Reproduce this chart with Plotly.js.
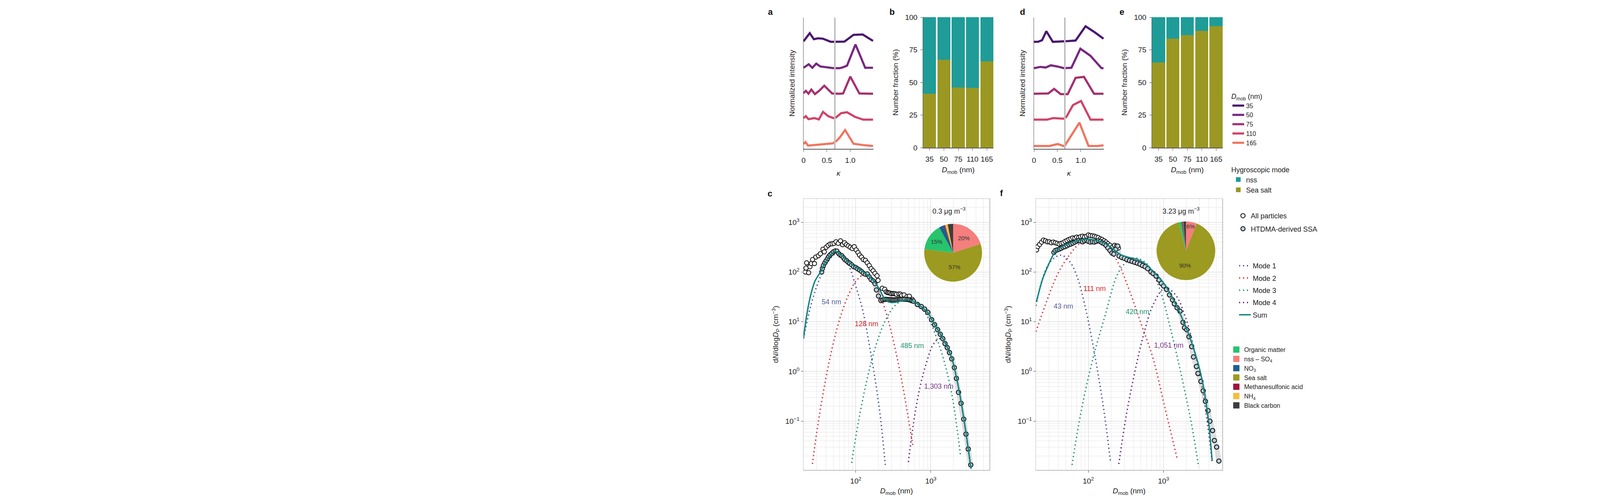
<!DOCTYPE html>
<html><head><meta charset="utf-8">
<script src="https://cdn.plot.ly/plotly-3.0.1.min.js"></script>
<style>html,body{margin:0;padding:0;background:#fff}#chart{width:5377px;height:1280px}</style>
</head><body><div id="chart"></div>
<script>
// ---------------- DATA ----------------
const dmobSizes = ['35', '50', '75', '110', '165'];
// panel a (kappa distributions, offset normalized intensity)
const aKappa35 = [0,0.133,0.222,0.306,0.417,0.5,0.583,0.653,0.694,0.778,0.875,0.958,1.069,1.264,1.361,1.486];
const aInt35   = [0.817,0.880,0.833,0.840,0.837,0.823,0.813,0.813,0.813,0.813,0.815,0.837,0.867,0.870,0.847,0.820];
const aKappa50 = [0,0.111,0.189,0.272,0.361,0.5,0.639,0.778,0.847,0.931,1.111,1.319,1.486];
const aInt50   = [0.613,0.640,0.613,0.645,0.623,0.615,0.610,0.610,0.617,0.630,0.793,0.613,0.613];
const aKappa75 = [0,0.05,0.106,0.167,0.244,0.333,0.444,0.611,0.778,0.847,1.0,1.194,1.486];
const aInt75   = [0.417,0.435,0.413,0.445,0.410,0.435,0.475,0.415,0.413,0.415,0.545,0.415,0.413];
const aKappa110 = [0,0.05,0.106,0.236,0.328,0.417,0.528,0.639,0.694,0.806,0.931,1.097,1.278,1.486];
const aInt110   = [0.225,0.240,0.217,0.225,0.215,0.273,0.240,0.225,0.230,0.263,0.270,0.235,0.213,0.213];
const aKappa165 = [0,0.042,0.097,0.222,0.333,0.5,0.625,0.708,0.778,0.889,1.069,1.278,1.486];
const aInt165   = [0.025,0.040,0.013,0.017,0.023,0.027,0.030,0.050,0.077,0.133,0.027,0.017,0.010];
// panel d
const dKappa35 = [0,0.083,0.172,0.264,0.403,0.528,0.639,0.75,0.889,1.103,1.306,1.486];
const dInt35   = [0.813,0.813,0.825,0.895,0.813,0.817,0.817,0.819,0.823,0.933,0.885,0.837];
const dKappa50 = [0,0.069,0.139,0.25,0.361,0.5,0.639,0.8,0.992,1.208,1.444,1.486];
const dInt50   = [0.610,0.613,0.620,0.615,0.632,0.623,0.610,0.613,0.760,0.705,0.610,0.610];
const dKappa75 = [0,0.306,0.431,0.569,0.722,0.889,1.069,1.283,1.486];
const dInt75   = [0.413,0.415,0.450,0.410,0.410,0.535,0.543,0.413,0.413];
const dKappa110 = [0,0.278,0.411,0.639,0.694,0.833,1.006,1.208,1.486];
const dInt110   = [0.213,0.213,0.225,0.220,0.235,0.325,0.357,0.213,0.213];
const dKappa165 = [0,0.333,0.506,0.653,0.681,0.972,1.167,1.361,1.486];
const dInt165   = [0.010,0.010,0.025,0.007,0.025,0.190,0.010,0.010,0.015];
const kappaThreshold = [0.67, 0.66];
const kappaTicks = [0, 0.5, 1.0];
const kappaTickText = ['0', '0.5', '1.0'];
// panels b, e (number fraction %)
const bSeaSalt = [41.4, 67.5, 46.0, 45.9, 66.3];
const bNss     = [58.6, 32.5, 54.0, 54.1, 33.7];
const eSeaSalt = [65.4, 83.6, 86.1, 89.5, 93.0];
const eNss     = [34.6, 16.4, 13.9, 10.5, 7.0];
const fracTicks = [0, 25, 50, 75, 100];
// panel c size distribution
const cAllD = [21.3,21.7,22.1,23.5,24.5,25.5,26.5,28.1,29.3,31.7,33.7,36.5,38.0,40.3,42.8,45.5,48.3,51.3,54.4,58.2,62.5,66.4,70.6,74.9,79.4,84.3,89.7,95.2,101,107,112,119,126,134,142,151,160,170,180,192,198,225,243,254,264,274,285,297,310,322,336,349,375,393,409,440,480,516,563,661,745,824,910,1023,1122,1230,1335,1443,1545,1656,1774,1901,2055,2192,2337,2527,2743,2939,3149,3405];
const cAllN = [100,120,153,97,128,148,178,148,200,213,233,288,255,315,344,366,370,377,405,377,425,355,388,355,334,315,297,324,279,247,219,200,178,172,153,135,117,106,94,84,68,47,45,40,38.7,38.2,37.8,36.5,37.1,36.8,36.5,35.6,36.2,35.9,33.9,34.6,31.9,32.7,28.3,22.3,20.3,18.0,15.5,11.0,8.71,6.92,5.60,4.57,3.63,3.02,2.40,1.79,1.20,0.724,0.380,0.229,0.110,0.055,0.0275,0.0132];
const cSsaD = [35.1,35.8,36.9,38.7,40.3,42.0,43.6,45.5,47.7,50.2,53.3,56.0,58.9,62.1,65.1,68.3,71.1,74.9,78.9,82.8,87.9,93.3,99.1,105,112,119,126,134,142,151,160,170,180,188,200,216,228,239,250,262,274,286,298,310,322,336,350,365,380,393,410,430,450,480,500,520,545,565,587,661,745,824,910,1023,1122,1230,1335,1443,1545,1656,1774,1901,2055,2192,2337,2527,2743,2939,3149,3405];
const cSsaN = [100,117,135,153,170,188,206,222,236,255,266,263,236,219,213,194,178,170,157,151,140,128,124,117,110,103,94.4,90,91.6,79.8,70.6,66.5,58.3,43.7,32.9,26.7,27.6,28.3,28.2,28.1,28.0,27.9,27.7,27.5,27.5,27.6,27.8,28.0,28.2,28.3,28.4,28.4,28.3,28.3,28.0,27.5,26.8,26.3,25.9,22.3,20.3,18.0,15.5,11.0,8.71,6.92,5.60,4.57,3.63,3.02,2.40,1.79,1.20,0.724,0.380,0.229,0.110,0.055,0.0275,0.0132];
const cSumD = [20.1,22.2,24.9,28.6,33.0,37.2,43.6,53.3,65.1,79.4,97.1,119,145,177,207,239,274,322,393,480,587,716,910,1023,1230,1545,1901,2192,2527,2939,3440];
const cSumN = [4.70,13.8,33.1,66.1,94.4,135,200,259,217,162,129,106,86.3,63.8,44.5,30.1,25.1,24.4,25.9,27.5,25.9,21.0,15.3,11.2,7.0,3.8,1.86,0.76,0.25,0.058,0.0110];
const cMode1D = [20.1,24.9,32.8,43.2,53.8,68.4,82.1,98.6,124,156,187,215,247];
const cMode1N = [4.57,20,72.4,166,229,191,126,55,16.6,2.63,0.50,0.105,0.0132];
const cMode2D = [26.4,31.3,39.4,49.6,62.4,82.1,103,128,163,205,258,325,409,491,577];
const cMode2N = [0.0138,0.087,0.66,3.47,12.6,38,69,87,72,38,13.8,3.47,0.66,0.138,0.0316];
const cMode3D = [88,108,142,187,247,340,485,677,934,1230,1545,1945,2500];
const cMode3N = [0.0145,0.095,0.72,3.47,10.5,21.9,28.8,21.9,11.5,4.17,1.38,0.29,0.019];
const cMode4D = [502,590,710,892,1072,1305,1619,2037,2559,3373];
const cMode4N = [0.0151,0.0955,0.457,1.66,3.47,4.57,3.47,1.26,0.219,0.0126];
const cLabelD = [47.3, 139, 563, 1276];
const cLabelN = [24.4, 8.87, 3.22, 0.488];
const cLabelText = ['54 nm', '128 nm', '485 nm', '1,303 nm'];
// panel f size distribution
const fAllD = [20.5,21.2,22.5,23.9,25.3,26.9,28.6,30.3,32.2,34.2,36.3,38.5,40.9,43.4,46.1,49.0,52.0,55.2,58.6,62.2,66.1,70.0,74.4,78.9,83.8,88.9,94.4,100,106,113,120,127,135,144,152,162,172,182,194,206,223,236,251,277,301,325,352,381,413,448,485,525,568,616,680,726,796,871,934,1000,1096,1201,1316,1390,1510,1655,1813,1898,2033,2178,2365,2499,2738,2867,3141,3365,3605,3910,4133,4488,4743,5082,5445];
const fAllN = [279,324,359,400,438,425,405,405,388,400,388,377,366,377,388,412,431,452,466,486,480,504,494,515,525,509,525,557,541,535,525,509,494,466,452,425,400,370,344,311,344,334,305,197,188,178,170,164,157,151,144,135,128,117,101,93.8,83.2,69.2,59.2,52.5,44.9,34.7,27.5,22.9,19.1,16.3,9.73,7.59,6.92,5.01,3.16,1.96,1.26,0.912,0.631,0.409,0.251,0.163,0.100,0.0649,0.0409,0.0302,0.0158];
const fSsaD = [34.8,36.3,38.5,40.9,43.4,46.1,49.0,52.0,55.2,58.6,62.2,66.1,70.0,74.4,78.9,83.8,88.9,94.4,100,106,113,120,127,135,144,152,162,172,182,194,206,218,232,246,256,277,301,325,352,381,413,448,485,525,568,616,680,726,796,871,934,1000,1096,1201,1316,1390,1510,1655,1813,1898,2033,2178,2365,2499,2738,2867,3141,3365,3605,3910,4133,4488,4743,5082,5445];
const fSsaN = [247,271,279,288,300,315,324,338,355,366,382,400,420,431,420,405,425,438,412,400,405,400,412,425,412,388,372,344,305,271,240,230,288,334,209,197,188,178,170,164,157,151,144,135,128,117,101,93.8,83.2,69.2,59.2,52.5,44.9,34.7,27.5,22.9,19.1,16.3,9.73,7.59,6.92,5.01,3.16,1.96,1.26,0.912,0.631,0.409,0.251,0.163,0.100,0.0649,0.0409,0.0302,0.0158];
const fSumD = [20.4,21.2,24.8,29.2,34.2,40.1,49.0,59.8,72.9,88.9,109,133,162,198,232,272,345,439,535,628,708,871,1047,1256,1510,1813,2178,2613,3141,3605,3948,4430];
const fSumN = [25.1,31.9,74.1,135,222,292,351,396,431,452,452,425,384,318,259,222,197,181,157,131,105,77.9,55,34.7,20,10.7,5.40,2.40,0.871,0.288,0.105,0.0163];
const fMode1D = [20.1,24.5,30.9,42.9,55.9,70.4,88.3,111,140,168,197];
const fMode1N = [20.9,72.4,158,219,166,83,24,4.57,0.63,0.105,0.0151];
const fMode2D = [20.1,26.8,38.5,55.9,80.7,111,168,242,349,503,726,1047,1510];
const fMode2N = [6.31,21.9,87,219,398,437,347,166,43.7,9.12,1.82,0.182,0.0182];
const fMode3D = [60.7,80.7,116,168,242,318,419,604,871,1256,1811,2386,2931];
const fMode3N = [0.0132,0.166,1.91,13.8,87,158,191,145,50,6.61,0.60,0.079,0.012];
const fMode4D = [254,318,419,552,726,1047,1442,1986,2613,3443,4430];
const fMode4N = [0.0138,0.126,1.05,6.03,21.9,47.9,34.7,11.5,2.40,0.288,0.0151];
const fLabelD = [121, 46.6, 449, 1175];
const fLabelN = [44.9, 20, 15.6, 3.25];
const fLabelText = ['111 nm', '43 nm', '420 nm', '1,051 nm'];
// pies (mass composition, %)
const pieLabels = ['nss – SO<sub>4</sub>', 'Sea salt', 'Organic matter', 'NO<sub>3</sub>', 'Methanesulfonic acid', 'NH<sub>4</sub>', 'Black carbon'];
const cPieValues = [20, 57, 15, 3, 0.5, 1.5, 3];
const cPieText = ['20%', '57%', '15%', '', '', '', ''];
const fPieValues = [6, 90, 1.5, 0.3, 0.5, 0.2, 1.5];
const fPieText = ['6%', '90%', '', '', '', '', ''];
const compLegendOrder = ['Organic matter', 'nss – SO<sub>4</sub>', 'NO<sub>3</sub>', 'Sea salt', 'Methanesulfonic acid', 'NH<sub>4</sub>', 'Black carbon'];
const cMassText = '0.3 μg m<sup>−3</sup>';
const fMassText = '3.23 μg m<sup>−3</sup>';

// ---------------- STYLE ----------------
const W = 5377, H = 1280;
const fx = p => p / W;
const fy = p => 1 - p / H;
const FONT = 'Liberation Sans, Arial, Helvetica, sans-serif';
const dmobColors = ['#4a176e', '#78287f', '#a5306f', '#d0446a', '#ef7560'];
const NSS = '#1f9c98', SEA = '#9b9723';
const compColors = {
  'Organic matter': '#27c46d', 'nss – SO<sub>4</sub>': '#f47f7d', 'NO<sub>3</sub>': '#1e5f8e',
  'Sea salt': '#9c9a20', 'Methanesulfonic acid': '#a3123f', 'NH<sub>4</sub>': '#f6bb41', 'Black carbon': '#3d3d3d'
};
const modeColors = ['#4b5397', '#d6303e', '#1e8f6e', '#5e2a6c'];
const labelColors = ['#5a5fa0', '#d42a2a', '#26996f', '#7a3a8a'];
const labelColorsF = ['#d42a2a', '#5a5fa0', '#26996f', '#7a3a8a'];
const SUM = '#13837f';

const traces = [];
// panels a & d
const aSets = [[aKappa35, aInt35], [aKappa50, aInt50], [aKappa75, aInt75], [aKappa110, aInt110], [aKappa165, aInt165]];
const dSets = [[dKappa35, dInt35], [dKappa50, dInt50], [dKappa75, dInt75], [dKappa110, dInt110], [dKappa165, dInt165]];
aSets.forEach((s, i) => traces.push({type: 'scatter', mode: 'lines', x: s[0], y: s[1], xaxis: 'x', yaxis: 'y',
  line: {color: dmobColors[i], width: 5.5}, name: dmobSizes[i], legend: 'legend', legendgroup: 'dm' + i, showlegend: true}));
dSets.forEach((s, i) => traces.push({type: 'scatter', mode: 'lines', x: s[0], y: s[1], xaxis: 'x3', yaxis: 'y3',
  line: {color: dmobColors[i], width: 5.5}, name: dmobSizes[i], legend: 'legend', legendgroup: 'dm' + i, showlegend: false}));
// panels b & e
traces.push({type: 'bar', x: dmobSizes, y: bSeaSalt, xaxis: 'x2', yaxis: 'y2', name: 'Sea salt', marker: {color: SEA}, legend: 'legend2'});
traces.push({type: 'bar', x: dmobSizes, y: bNss, xaxis: 'x2', yaxis: 'y2', name: 'nss', marker: {color: NSS}, legend: 'legend2'});
traces.push({type: 'bar', x: dmobSizes, y: eSeaSalt, xaxis: 'x4', yaxis: 'y4', name: 'Sea salt', marker: {color: SEA}, legend: 'legend2', showlegend: false});
traces.push({type: 'bar', x: dmobSizes, y: eNss, xaxis: 'x4', yaxis: 'y4', name: 'nss', marker: {color: NSS}, legend: 'legend2', showlegend: false});

function sizePanel(xa, ya, modes, all, ssa, sum, lbl, lblColors, first) {
  modes.forEach((m, i) => traces.push({type: 'scatter', mode: 'lines', x: m[0], y: m[1], xaxis: xa, yaxis: ya,
    line: {color: modeColors[i], width: 3.5, dash: '3px,7px', shape: 'spline'}, name: 'Mode ' + (i + 1),
    legend: 'legend4', legendgroup: 'm' + i, showlegend: first}));
  traces.push({type: 'scatter', mode: 'lines', x: ssa[0], y: ssa[1], xaxis: xa, yaxis: ya,
    line: {color: 'rgba(150,150,150,0.30)', width: 13}, showlegend: false, hoverinfo: 'skip'});
  traces.push({type: 'scatter', mode: 'markers', x: all[0], y: all[1], xaxis: xa, yaxis: ya, name: 'All particles',
    marker: {symbol: 'circle', size: 11, color: '#ffffff', line: {color: '#111', width: 2}},
    legend: 'legend3', legendgroup: 'all', showlegend: first});
  traces.push({type: 'scatter', mode: 'markers', x: ssa[0], y: ssa[1], xaxis: xa, yaxis: ya, name: 'HTDMA-derived SSA',
    marker: {symbol: 'circle', size: 11, color: '#b9cdd8', line: {color: '#111', width: 2}},
    legend: 'legend3', legendgroup: 'ssa', showlegend: first});
  traces.push({type: 'scatter', mode: 'lines', x: sum[0], y: sum[1], xaxis: xa, yaxis: ya, name: 'Sum',
    line: {color: SUM, width: 3.5, shape: 'spline'}, legend: 'legend4', legendgroup: 'sum', showlegend: first});
  traces.push({type: 'scatter', mode: 'text', x: lbl[0], y: lbl[1], text: lbl[2], xaxis: xa, yaxis: ya,
    textfont: {size: 18, color: lblColors, family: FONT}, showlegend: false, hoverinfo: 'skip', cliponaxis: false});
}
sizePanel('x5', 'y5', [[cMode1D, cMode1N], [cMode2D, cMode2N], [cMode3D, cMode3N], [cMode4D, cMode4N]],
  [cAllD, cAllN], [cSsaD, cSsaN], [cSumD, cSumN], [cLabelD, cLabelN, cLabelText], labelColors, true);
sizePanel('x6', 'y6', [[fMode1D, fMode1N], [fMode2D, fMode2N], [fMode3D, fMode3N], [fMode4D, fMode4N]],
  [fAllD, fAllN], [fSsaD, fSsaN], [fSumD, fSumN], [fLabelD, fLabelN, fLabelText], labelColorsF, false);

// composition legend entries
compLegendOrder.forEach(n => traces.push({type: 'scatter', mode: 'markers', x: [null], y: [null], xaxis: 'x5', yaxis: 'y5',
  name: n, marker: {symbol: 'square', size: 16, color: compColors[n]}, legend: 'legend5', showlegend: true}));

// pies
function pie(values, text, cx, cy, r) {
  traces.push({type: 'pie', labels: pieLabels, values: values, text: text, textinfo: 'text', sort: false,
    direction: 'clockwise', rotation: 0, textposition: text.map(t => t ? 'inside' : 'none'),
    insidetextorientation: 'horizontal', textfont: {size: 15, color: '#333', family: FONT},
    marker: {colors: pieLabels.map(l => compColors[l]), line: {width: 0}},
    domain: {x: [fx(cx - r), fx(cx + r)], y: [fy(cy + r), fy(cy - r)]}, showlegend: false, hoverinfo: 'skip'});
}
pie(cPieValues, cPieText, 2440, 647, 74);
pie(fPieValues, fPieText, 3036, 642, 75);

// ---------------- AXES ----------------
const lineAx = {showline: true, linecolor: '#555', linewidth: 1.5, ticks: 'outside', ticklen: 6, tickcolor: '#555',
  showgrid: false, zeroline: false, tickfont: {size: 19, color: '#222'}};
function kappaX(dom, anchor) {
  return Object.assign({}, lineAx, {domain: dom, anchor: anchor, range: [0, 1.495], tickmode: 'array', tickvals: kappaTicks,
    ticktext: kappaTickText, ticklabelstandoff: 6, title: {text: '<i>κ</i>', standoff: 16, font: {size: 19}}});
}
function kappaY(dom, anchor) {
  return Object.assign({}, lineAx, {domain: dom, anchor: anchor, range: [-0.012, 1], showticklabels: false, ticks: '',
    title: {text: 'Normalized intensity', standoff: 16, font: {size: 19}}});
}
function catX(dom, anchor) {
  return Object.assign({}, lineAx, {domain: dom, anchor: anchor, type: 'category', range: [-0.455, 4.455], ticklabelstandoff: 6,
    title: {text: '<i>D</i><sub>mob</sub> (nm)', standoff: 10, font: {size: 19}}});
}
function fracY(dom, anchor) {
  return Object.assign({}, lineAx, {domain: dom, anchor: anchor, range: [0, 100], tickmode: 'array', tickvals: fracTicks,
    ticklabelstandoff: 3, title: {text: 'Number fraction (%)', standoff: 12, font: {size: 19}}});
}
const minorX = [], minorY = [];
for (let e = 1; e <= 3; e++) for (let m = 2; m <= 9; m++) minorX.push(m * Math.pow(10, e));
for (let e = -2; e <= 3; e++) for (let m = 2; m <= 9; m++) minorY.push(m * Math.pow(10, e));
const logAx = {type: 'log', showline: true, mirror: true, linecolor: '#bdbdbd', linewidth: 1.5, ticks: 'outside', ticklen: 5,
  tickcolor: '#333', showgrid: true, gridcolor: '#d0d0d0', gridwidth: 1, zeroline: false, tickfont: {size: 19, color: '#222'},
  tickmode: 'array'};
function sizeX(dom, anchor) {
  return Object.assign({}, logAx, {domain: dom, anchor: anchor, range: [1.303, 3.781], tickvals: [100, 1000],
    ticktext: ['10<sup>2</sup>', '10<sup>3</sup>'], ticklabelstandoff: 6,
    minor: {tickmode: 'array', tickvals: minorX, showgrid: true, gridcolor: '#e6e6e6', ticks: ''},
    title: {text: '<i>D</i><sub>mob</sub> (nm)', standoff: 8, font: {size: 19}}});
}
function sizeY(dom, anchor) {
  return Object.assign({}, logAx, {domain: dom, anchor: anchor, range: [-1.98, 3.472], tickvals: [0.1, 1, 10, 100, 1000],
    ticktext: ['10<sup>−1</sup>', '10<sup>0</sup>', '10<sup>1</sup>', '10<sup>2</sup>', '10<sup>3</sup>'],
    minor: {tickmode: 'array', tickvals: minorY, showgrid: true, gridcolor: '#e6e6e6', ticks: ''},
    title: {text: 'd<i>N</i>/dlog<i>D</i><sub>P</sub> (cm<sup>−3</sup>)', standoff: 12, font: {size: 19}}});
}
const topY = [fy(381), fy(45)];
const barY = [fy(378), fy(44)];
const botY = [fy(1203), fy(509)];

const legBase = {xanchor: 'left', yanchor: 'top', bgcolor: 'rgba(0,0,0,0)', font: {size: 18, color: '#222', family: FONT}, itemwidth: 30};
const legSmall = {size: 16, color: '#222', family: FONT};
const layout = {
  width: W, height: H, margin: {l: 0, r: 0, t: 0, b: 0}, paper_bgcolor: '#fff', plot_bgcolor: '#fff',
  font: {family: FONT, size: 18, color: '#222'}, barmode: 'stack', bargap: 0.09, showlegend: true,
  uniformtext: {minsize: 14, mode: 'show'},
  xaxis: kappaX([fx(2057), fx(2236)], 'y'), yaxis: kappaY(topY, 'x'),
  xaxis2: catX([fx(2363), fx(2543)], 'y2'), yaxis2: fracY(barY, 'x2'),
  xaxis3: kappaX([fx(2647), fx(2826)], 'y3'), yaxis3: kappaY(topY, 'x3'),
  xaxis4: catX([fx(2949), fx(3130)], 'y4'), yaxis4: fracY(barY, 'x4'),
  xaxis5: sizeX([fx(2057), fx(2533)], 'y5'), yaxis5: sizeY(botY, 'x5'),
  xaxis6: sizeX([fx(2652), fx(3129)], 'y6'), yaxis6: sizeY(botY, 'x6'),
  legend: Object.assign({}, legBase, {x: fx(3150), y: fy(230), traceorder: 'normal', tracegroupgap: 0, font: legSmall,
    title: {text: '<i>D</i><sub>mob</sub> (nm)', font: {size: 18}}}),
  legend2: Object.assign({}, legBase, {x: fx(3150), y: fy(418), traceorder: 'reversed',
    title: {text: 'Hygroscopic mode', font: {size: 18}}}),
  legend3: Object.assign({}, legBase, {x: fx(3162), y: fy(534), traceorder: 'grouped', tracegroupgap: 7}),
  legend4: Object.assign({}, legBase, {x: fx(3167), y: fy(662), traceorder: 'grouped', tracegroupgap: 5}),
  legend5: Object.assign({}, legBase, {x: fx(3145), y: fy(878), traceorder: 'normal', font: legSmall}),
  shapes: [
    {type: 'line', xref: 'x', yref: 'y domain', x0: kappaThreshold[0], x1: kappaThreshold[0], y0: 0, y1: 1, line: {color: '#bfbfbf', width: 4}, layer: 'above'},
    {type: 'line', xref: 'x3', yref: 'y3 domain', x0: kappaThreshold[1], x1: kappaThreshold[1], y0: 0, y1: 1, line: {color: '#bfbfbf', width: 4}, layer: 'above'}
  ],
  annotations: [
    ['a', 1972, 30], ['b', 2283, 30], ['d', 2617, 30], ['e', 2872, 30], ['c', 1971, 495], ['f', 2564, 494]
  ].map(a => ({text: '<b>' + a[0] + '</b>', x: fx(a[1]), y: fy(a[2]), xref: 'paper', yref: 'paper', showarrow: false,
    xanchor: 'center', yanchor: 'middle', font: {size: 22, color: '#111', family: FONT}})).concat([
    {text: cMassText, x: fx(2429), y: fy(539), xref: 'paper', yref: 'paper', showarrow: false, font: {size: 18, color: '#222'}},
    {text: fMassText, x: fx(3023), y: fy(539), xref: 'paper', yref: 'paper', showarrow: false, font: {size: 18, color: '#222'}}
  ])
};
Plotly.newPlot('chart', traces, layout, {staticPlot: true, displayModeBar: false});
</script></body></html>
